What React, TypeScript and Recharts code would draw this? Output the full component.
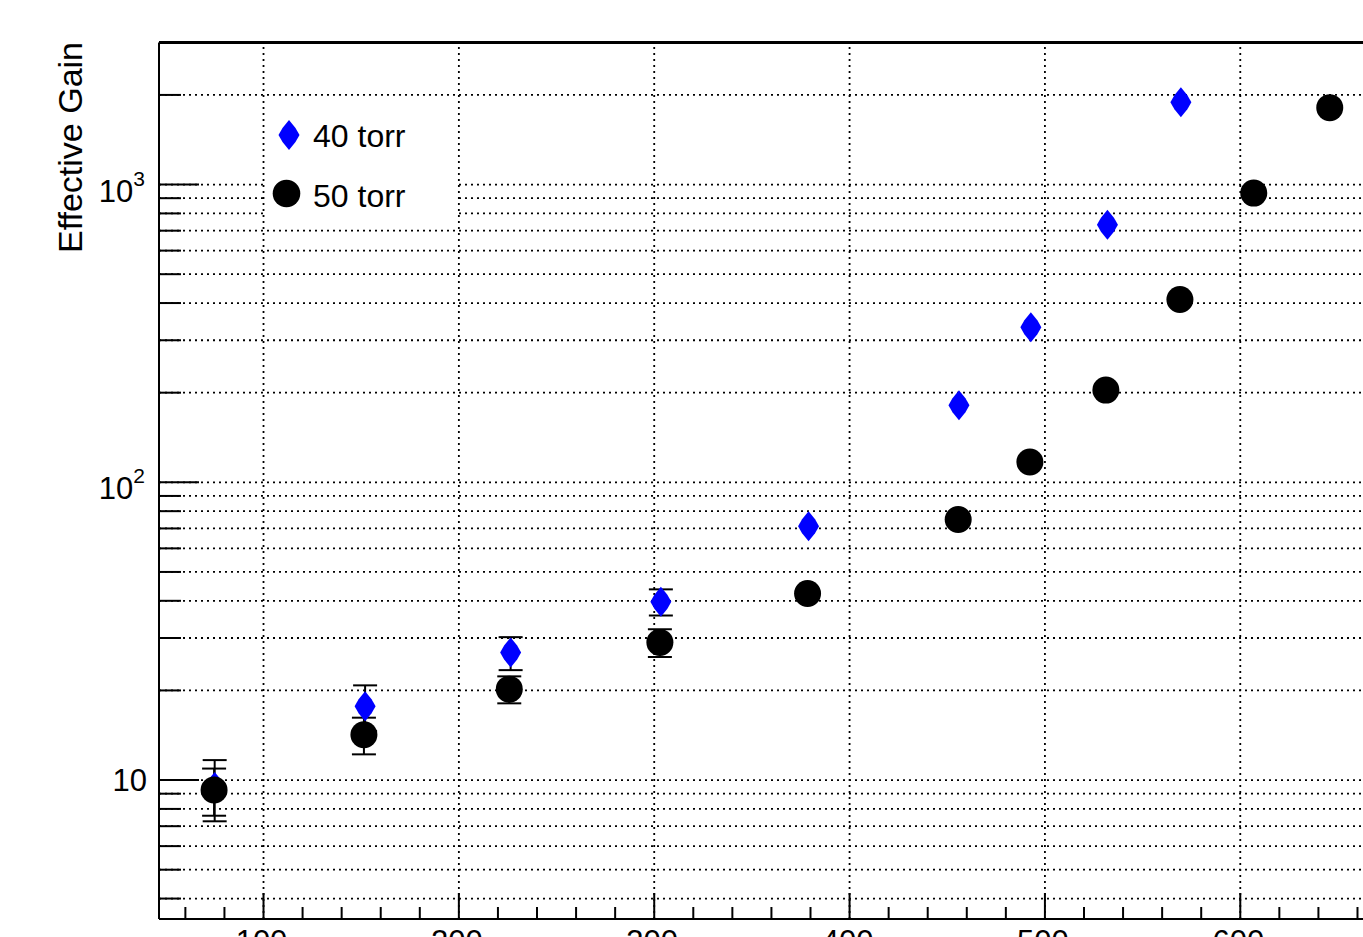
import React from 'react';
import {
  ScatterChart,
  Scatter,
  XAxis,
  YAxis,
  CartesianGrid,
  ErrorBar,
  ReferenceLine,
  Legend,
} from 'recharts';

// ---- data ----
const SERIES_NAMES = ['40 torr', '50 torr'];

const X_40 = [75, 152, 226.5, 303.4, 379, 456, 492.8, 532, 569.6];
const Y_40 = [9.47, 17.7, 26.8, 39.7, 71.2, 181.5, 332, 733, 1890];
// error bars hidden behind the marker are left out (null)
const E_40 = [2.2, 3.1, 3.4, 4.0, null, null, null, null, null];

const X_50 = [74.7, 151.4, 225.8, 302.9, 378.5, 455.6, 492.3, 531.2, 569.1, 606.9, 645.8];
const Y_50 = [9.26, 14.2, 20.2, 29.0, 42.3, 75.0, 117, 204, 411, 936, 1813];
const E_50 = [1.67, 2.0, 2.1, 3.1, null, null, null, null, null, null, null];

const X_DOMAIN = [46.5, 692];
const Y_DOMAIN = [3.415, 3000];

const X_TICKS = [60, 80, 100, 120, 140, 160, 180, 200, 220, 240, 260, 280, 300, 320, 340, 360, 380, 400, 420, 440, 460, 480, 500, 520, 540, 560, 580, 600, 620, 640, 660, 680];
const X_MAJOR = [100, 200, 300, 400, 500, 600];
const X_MAJOR_LABELS = ['100', '200', '300', '400', '500', '600'];

const Y_TICKS = [4, 5, 6, 7, 8, 9, 10, 20, 30, 40, 50, 60, 70, 80, 90, 100, 200, 300, 400, 500, 600, 700, 800, 900, 1000, 2000, 3000];
const Y_MAJOR = [10, 100, 1000];
const Y_MAJOR_BASE = ['10', '10', '10'];
const Y_MAJOR_EXP = ['', '2', '3'];

const Y_TITLE = 'Effective Gain';

const data40 = X_40.map((x, i) => ({ x, y: Y_40[i], err: E_40[i] }));
const data50 = X_50.map((x, i) => ({ x, y: Y_50[i], err: E_50[i] }));

const FONT = '"Liberation Sans", Arial, Helvetica, sans-serif';
const BLUE = '#0000ff';
const GRID_DASH = '2 4';
const GRID_W = 1.8;

const diamondPoints = (cx: number, cy: number) =>
  [
    [0, -15],
    [6.5, -7],
    [10.5, 0],
    [6.5, 7],
    [0, 15],
    [-6.5, 7],
    [-10.5, 0],
    [-6.5, -7],
  ]
    .map(([dx, dy]) => `${cx + dx},${cy + dy}`)
    .join(' ');

const DiamondShape = (props: any) => {
  const { cx, cy } = props;
  if (cx == null || cy == null) return null;
  return <polygon points={diamondPoints(cx, cy)} fill={BLUE} />;
};

const CircleShape = (props: any) => {
  const { cx, cy } = props;
  if (cx == null || cy == null) return null;
  return <circle cx={cx} cy={cy} r={13.5} fill="#000" />;
};

const NoShape = () => <g />;

const XTick = (props: any) => {
  const { x, y, payload } = props;
  const v = payload.value;
  const i = X_MAJOR.indexOf(v);
  const major = i >= 0;
  return (
    <g>
      <line x1={x} x2={x} y1={y} y2={y - (major ? 26 : 12)} stroke="#000" strokeWidth={2} />
      {major && (
        <text x={x - 2} y={y + 33} textAnchor="middle" fontSize={31} fontFamily={FONT} fill="#000">
          {X_MAJOR_LABELS[i]}
        </text>
      )}
    </g>
  );
};

const YTick = (props: any) => {
  const { x, y, payload } = props;
  const v = payload.value;
  const i = Y_MAJOR.indexOf(v);
  const major = i >= 0;
  let label = null;
  if (major) {
    if (Y_MAJOR_EXP[i] === '') {
      label = (
        <text x={x - 12} y={y + 11} textAnchor="end" fontSize={31} fontFamily={FONT} fill="#000">
          {Y_MAJOR_BASE[i]}
        </text>
      );
    } else {
      label = (
        <text x={x - 14} y={y + 17} textAnchor="end" fontSize={31} fontFamily={FONT} fill="#000">
          <tspan>{Y_MAJOR_BASE[i]}</tspan>
          <tspan fontSize={21} dy={-16}>
            {Y_MAJOR_EXP[i]}
          </tspan>
        </text>
      );
    }
  }
  return (
    <g>
      <line x1={x} x2={x + (major ? 40 : 22)} y1={y} y2={y} stroke="#000" strokeWidth={2} />
      {label}
    </g>
  );
};

const YTitle = (props: any) => {
  const vb = props.viewBox || { x: 0, y: 42.5 };
  const tx = vb.x + 82;
  const ty = vb.y + 105;
  return (
    <text
      x={tx}
      y={ty}
      transform={`rotate(-90, ${tx}, ${ty})`}
      textAnchor="middle"
      fontSize={34}
      fontFamily={FONT}
      fill="#000"
    >
      {Y_TITLE}
    </text>
  );
};

const LegendContent = () => (
  <svg width={190} height={118} style={{ display: 'block' }}>
    <rect x={0} y={0} width={190} height={118} fill="#fff" />
    <polygon points={diamondPoints(24, 32)} fill={BLUE} />
    <text x={48} y={44} fontSize={32} fontFamily={FONT} fill="#000">
      {SERIES_NAMES[0]}
    </text>
    <circle cx={21.5} cy={90.5} r={13.8} fill="#000" />
    <text x={48} y={103.5} fontSize={32} fontFamily={FONT} fill="#000">
      {SERIES_NAMES[1]}
    </text>
  </svg>
);

export default function App() {
  return (
    <div
      style={{
        position: 'fixed',
        left: 0,
        top: 0,
        width: 1363,
        height: 937,
        overflow: 'hidden',
        background: '#fff',
      }}
    >
      <ScatterChart width={1420} height={990} margin={{ top: 42.5, right: 0, bottom: 0, left: 0 }}>
        <CartesianGrid
          horizontal={true}
          vertical={false}
          stroke="#000"
          strokeWidth={GRID_W}
          strokeDasharray={GRID_DASH}
        />
        {X_MAJOR.map((v) => (
          <ReferenceLine
            key={v}
            x={v}
            stroke="#000"
            strokeWidth={GRID_W}
            strokeDasharray={GRID_DASH}
          />
        ))}
        <XAxis
          type="number"
          dataKey="x"
          domain={X_DOMAIN}
          allowDataOverflow
          ticks={X_TICKS}
          interval={0}
          tick={<XTick />}
          tickLine={false}
          tickSize={0}
          tickMargin={0}
          height={71}
          axisLine={{ stroke: '#000', strokeWidth: 2 }}
        />
        <YAxis
          type="number"
          dataKey="y"
          scale="log"
          domain={Y_DOMAIN}
          allowDataOverflow
          ticks={Y_TICKS}
          interval={0}
          tick={<YTick />}
          tickLine={false}
          tickSize={0}
          tickMargin={0}
          width={159}
          axisLine={{ stroke: '#000', strokeWidth: 2 }}
          label={YTitle}
        />
        {/* error bars first so markers sit on top of them */}
        <Scatter
          name={SERIES_NAMES[0] + ' errors'}
          data={data40}
          shape={NoShape}
          legendType="none"
          isAnimationActive={false}
        >
          <ErrorBar
            dataKey="err"
            direction="y"
            width={12}
            stroke="#000"
            strokeWidth={2}
            {...({ zIndex: 590 } as any)}
          />
        </Scatter>
        <Scatter
          name={SERIES_NAMES[1] + ' errors'}
          data={data50}
          shape={NoShape}
          legendType="none"
          isAnimationActive={false}
        >
          <ErrorBar
            dataKey="err"
            direction="y"
            width={12}
            stroke="#000"
            strokeWidth={2}
            {...({ zIndex: 590 } as any)}
          />
        </Scatter>
        <Scatter
          name={SERIES_NAMES[0]}
          data={data40}
          fill={BLUE}
          shape={DiamondShape}
          isAnimationActive={false}
        />
        <Scatter
          name={SERIES_NAMES[1]}
          data={data50}
          fill="#000"
          shape={CircleShape}
          isAnimationActive={false}
        />
        <ReferenceLine y={Y_DOMAIN[1]} stroke="#000" strokeWidth={3} />
        <Legend
          layout="horizontal"
          verticalAlign="middle"
          align="center"
          wrapperStyle={{ left: 265, top: 103, width: 190, height: 118, backgroundColor: '#fff' }}
          content={<LegendContent />}
        />
      </ScatterChart>
    </div>
  );
}
